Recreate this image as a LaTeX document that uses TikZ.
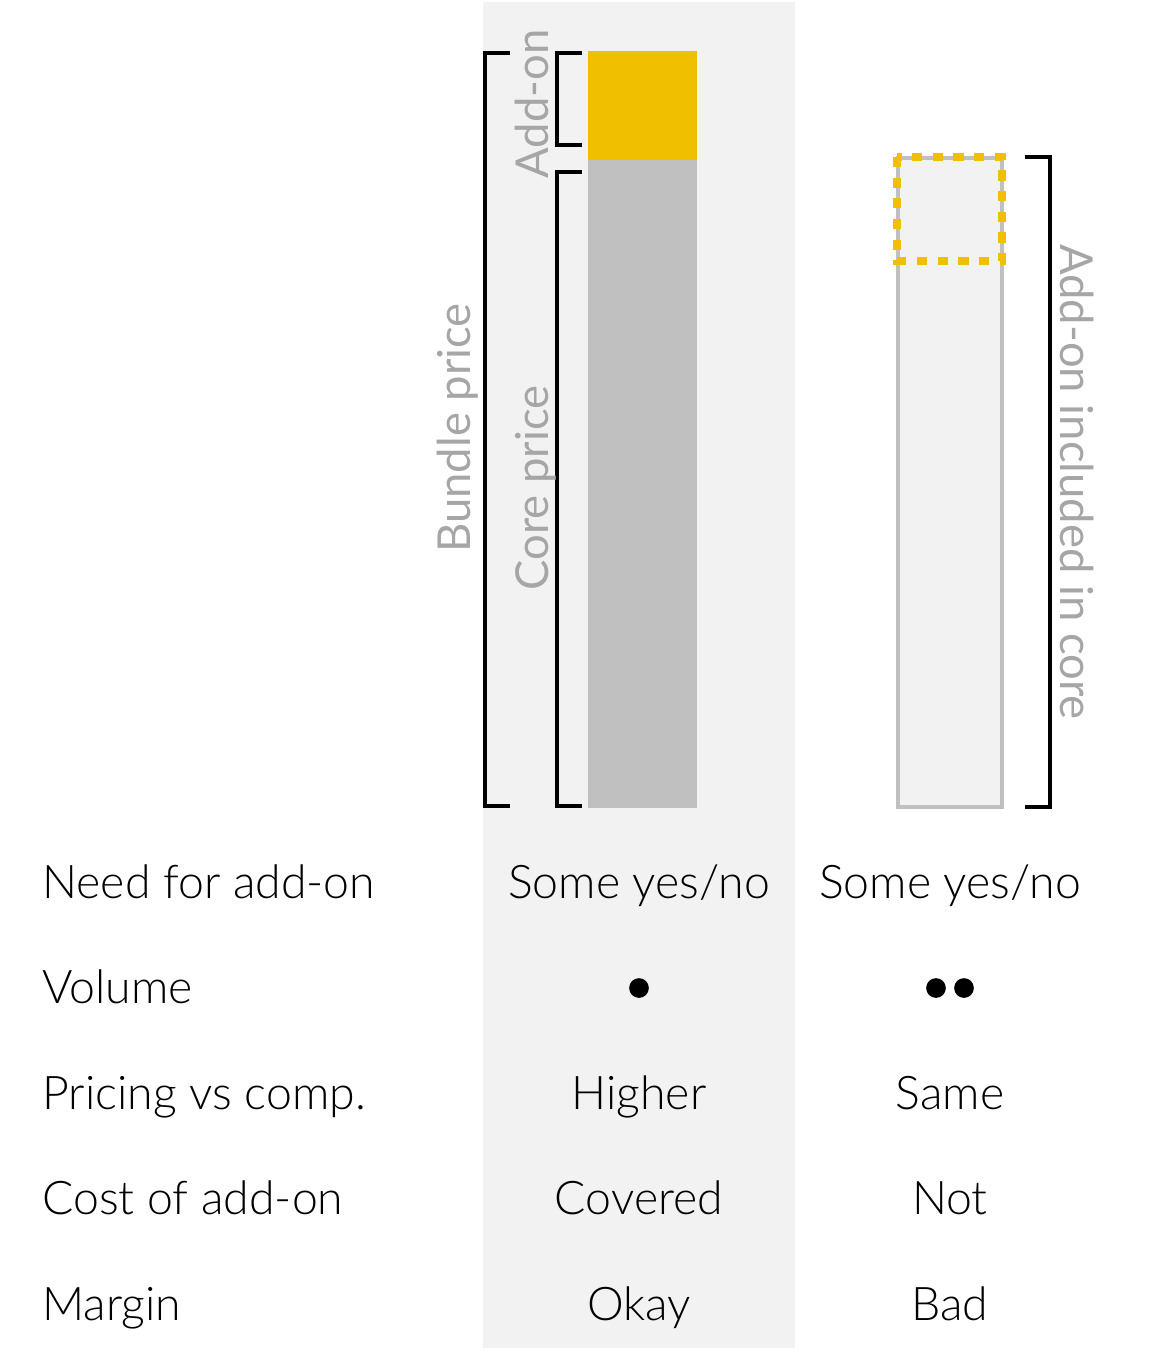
\documentclass[tikz,border=0pt]{standalone}
\usepackage{fontspec}
\setmainfont{Lato Light}
\newfontfamily\labelfont{Lato}
\definecolor{panelgray}{HTML}{F2F2F2}
\definecolor{bargray}{HTML}{C0C0C0}
\definecolor{addonyellow}{HTML}{F0C000}
\definecolor{labelgray}{HTML}{A6A6A6}
\begin{document}
\begin{tikzpicture}[x=0.025cm, y=-0.025cm,
    rowtext/.style={font=\fontsize{33}{40}\selectfont, inner sep=0pt},
    sidelabel/.style={font=\labelfont\fontsize{32.3}{40}\selectfont, text=labelgray, inner sep=0pt},
    voldot/.style={circle, fill=black, inner sep=0pt, minimum size=14pt},
    bracket/.style={line width=2.2pt, black}]
    \useasboundingbox (0,0) rectangle (1159,1356);

    % shaded column
    \fill[panelgray] (483,2) rectangle (795,1348);

    % bundle bar
    \fill[addonyellow] (588,51) rectangle (697,160);
    \fill[bargray] (588,160) rectangle (697,808);

    % core bar, add-on included
    \draw[bargray, line width=2.2pt, fill=panelgray] (898,158) rectangle (1002,807);
    \draw[addonyellow, line width=6pt, dash pattern=on 7.2pt off 7.5pt] (897,157) rectangle (1002,261);

    % brackets
    \draw[bracket] (510,53) -- (485,53) -- (485,806) -- (510,806);
    \draw[bracket] (582,53) -- (557,53) -- (557,145) -- (582,145);
    \draw[bracket] (582,172) -- (557,172) -- (557,806) -- (582,806);
    \draw[bracket] (1025,157) -- (1050,157) -- (1050,807) -- (1025,807);

    % bracket labels
    \node[sidelabel, rotate=90, anchor=base] (bundleprice) at (470,428) {Bundle price};
    \node[sidelabel, rotate=90, anchor=base] (coreprice) at (548,488) {Core price};
    \node[sidelabel, rotate=90, anchor=base] (addon) at (548,104) {Add-on};
    \node[sidelabel, rotate=-90, anchor=base] (included) at (1060,482) {Add-on included in core};

    % row: need
    \node[rowtext, anchor=base west] (needlbl) at (42,898) {Need for add-on};
    \node[rowtext, anchor=base] (needbundle) at (639,898) {Some yes/no};
    \node[rowtext, anchor=base] (needcore) at (950,898) {Some yes/no};

    % row: volume
    \node[rowtext, anchor=base west] (volumelbl) at (42,1003) {Volume};
    \node[voldot] (volumebundle) at (639,988) {};
    \node[voldot] (volumecorea) at (936,988) {};
    \node[voldot] (volumecoreb) at (964,988) {};

    % row: pricing
    \node[rowtext, anchor=base west] (pricinglbl) at (42,1109) {Pricing vs comp.};
    \node[rowtext, anchor=base] (pricingbundle) at (639,1109) {Higher};
    \node[rowtext, anchor=base] (pricingcore) at (950,1109) {Same};

    % row: cost
    \node[rowtext, anchor=base west] (costlbl) at (42,1214) {Cost of add-on};
    \node[rowtext, anchor=base] (costbundle) at (639,1214) {Covered};
    \node[rowtext, anchor=base] (costcore) at (950,1214) {Not};

    % row: margin
    \node[rowtext, anchor=base west] (marginlbl) at (42,1320) {Margin};
    \node[rowtext, anchor=base] (marginbundle) at (639,1320) {Okay};
    \node[rowtext, anchor=base] (margincore) at (950,1320) {Bad};
\end{tikzpicture}
\end{document}
